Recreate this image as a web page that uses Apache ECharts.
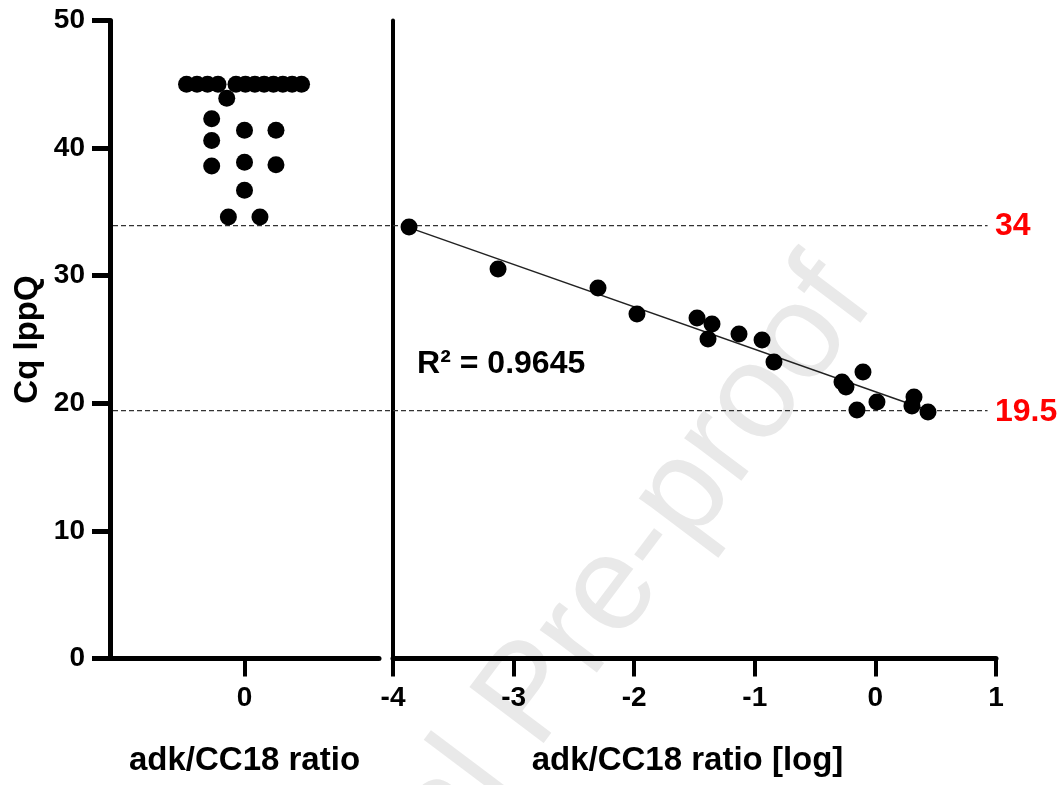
<!DOCTYPE html>
<html>
<head>
<meta charset="utf-8">
<script src="https://cdn.jsdelivr.net/npm/echarts@6/dist/echarts.min.js"></script>
<style>
  html, body { margin: 0; padding: 0; background: #fff; }
  #chart { width: 1058px; height: 785px; }
</style>
</head>
<body>
<div id="chart"></div>
<script>
// ---- data ----
// left panel: non-log ratio group (x = horizontal jitter inside the single category "0")
const leftJitter = [-0.431, -0.353, -0.275, -0.197, -0.063, 0.007, 0.077, 0.146, 0.215, 0.285, 0.354, 0.424,
                    -0.132, -0.244, -0.244, -0.244, 0.0, 0.234, 0.0, 0.234, 0.0, -0.12, 0.115];
const leftCq     = [45, 45, 45, 45, 45, 45, 45, 45, 45, 45, 45, 45,
                    43.9, 42.3, 40.6, 38.6, 41.4, 41.4, 38.9, 38.7, 36.7, 34.6, 34.6];
// right panel: log ratio vs Cq
const logRatio = [-3.867, -3.129, -2.300, -1.977, -1.479, -1.355, -1.388, -1.131, -0.940, -0.841,
                  -0.277, -0.244, -0.103, -0.153, 0.013, 0.320, 0.303, 0.436];
const cqRight  = [33.82, 30.52, 29.04, 27.0, 26.69, 26.22, 25.04, 25.43, 24.96, 23.24,
                  21.67, 21.28, 22.45, 19.47, 20.11, 20.50, 19.79, 19.32];
// regression line
const fitSlope = -3.327;
const fitIntercept = 20.90;
const fitRange = [-3.867, 0.436];
const r2Text = 'R² = 0.9645';
// thresholds
const thresholds = [34, 19.5];
const thresholdLabels = ['34', '19.5'];
// axis ticks
const leftXTicks = [0];
const xTitleLeft = 'adk/CC18 ratio';
const xTitleRight = 'adk/CC18 ratio [log]';
const yTitle = 'Cq lppQ';
const watermark = 'Journal Pre-proof';

const FONT = '"Liberation Sans", Arial, sans-serif';
const chart = echarts.init(document.getElementById('chart'), null, { renderer: 'canvas' });

const leftData = leftJitter.map((x, i) => [x, leftCq[i]]);
const rightData = logRatio.map((x, i) => [x, cqRight[i]]);
const fitData = fitRange.map(x => [x, fitSlope * x + fitIntercept]);

const tickLabel = { fontFamily: FONT, fontWeight: 'bold', fontSize: 28, color: '#000' };
const titleStyle = { fontFamily: FONT, fontWeight: 'bold', fontSize: 33, color: '#000' };

chart.setOption({
  animation: false,
  backgroundColor: '#fff',
  grid: [
    { left: 110, right: 679, top: 20.5, bottom: 126.5 },
    { left: 393, right: 62, top: 20.5, bottom: 126.5 }
  ],
  xAxis: [
    {
      gridIndex: 0, type: 'value', min: -1, max: 1, interval: 1,
      axisLine: { onZero: false, lineStyle: { color: '#000', width: 5 } },
      axisTick: { customValues: leftXTicks, length: 18, lineStyle: { color: '#000', width: 4 } },
      axisLabel: Object.assign({ customValues: leftXTicks, margin: 26 }, tickLabel),
      splitLine: { show: false },
      name: xTitleLeft, nameLocation: 'middle', nameGap: 86, nameTextStyle: titleStyle
    },
    {
      gridIndex: 1, type: 'value', min: -4, max: 1, interval: 1,
      axisLine: { onZero: false, lineStyle: { color: '#000', width: 5 } },
      axisTick: { length: 18, lineStyle: { color: '#000', width: 4 } },
      axisLabel: Object.assign({ margin: 26 }, tickLabel),
      splitLine: { show: false },
      name: xTitleRight, nameLocation: 'middle', nameGap: 86,
      nameTextStyle: Object.assign({ padding: [0, 14, 0, 0] }, titleStyle)
    }
  ],
  yAxis: [
    {
      gridIndex: 0, type: 'value', min: 0, max: 50, interval: 10,
      axisLine: { show: true, onZero: false, lineStyle: { color: '#000', width: 5 } },
      axisTick: { show: true, length: 18, lineStyle: { color: '#000', width: 5 } },
      axisLabel: Object.assign({ margin: 25 }, tickLabel),
      splitLine: { show: false },
      name: yTitle, nameLocation: 'middle', nameGap: 66, nameRotate: 90, nameTextStyle: titleStyle
    },
    {
      gridIndex: 1, type: 'value', min: 0, max: 50, interval: 10,
      axisLine: { show: true, onZero: false, lineStyle: { color: '#000', width: 4 } },
      axisTick: { show: false },
      axisLabel: { show: false },
      splitLine: { show: false }
    }
  ],
  series: [
    {
      type: 'scatter', xAxisIndex: 0, yAxisIndex: 0, data: leftData,
      symbolSize: 17, itemStyle: { color: '#000', opacity: 1 }, z: 5
    },
    {
      type: 'line', xAxisIndex: 1, yAxisIndex: 1, data: fitData,
      symbol: 'none', lineStyle: { color: '#222', width: 1.5 }, z: 4
    },
    {
      type: 'scatter', xAxisIndex: 1, yAxisIndex: 1, data: rightData,
      symbolSize: 17, itemStyle: { color: '#000', opacity: 1 }, z: 5
    }
  ]
});

// reference lines spanning both panels, labels and annotation, placed via the axes' scales
const graphics = [];
thresholds.forEach((t, i) => {
  const a = chart.convertToPixel({ gridIndex: 0 }, [-1, t]);
  const b = chart.convertToPixel({ gridIndex: 1 }, [0.93, t]);
  const c = chart.convertToPixel({ gridIndex: 1 }, [1, t]);
  graphics.push({
    type: 'line', z: 3, silent: true,
    shape: { x1: a[0] + 3, y1: a[1] + 1, x2: b[0], y2: b[1] + 1 },
    style: { stroke: '#333', lineWidth: 1.3, lineDash: [5, 3] }
  });
  graphics.push({
    type: 'text', z: 10, silent: true, x: c[0] - 1, y: c[1] + 2,
    style: { text: thresholdLabels[i], fill: '#ff0000', font: 'bold 32px ' + FONT,
             align: 'left', verticalAlign: 'middle' }
  });
});
const rp = chart.convertToPixel({ gridIndex: 1 }, [-3.8, 23.1]);
graphics.push({
  type: 'text', z: 10, silent: true, x: rp[0], y: rp[1],
  style: { text: r2Text, fill: '#000', font: 'bold 32px ' + FONT, align: 'left', verticalAlign: 'middle' }
});
// watermark
graphics.push({
  type: 'text', z: -10, silent: true, x: 846, y: 280, rotation: 53 * Math.PI / 180,
  style: { text: watermark, fill: '#e9e9e9', font: '135px ' + FONT, align: 'right', verticalAlign: 'middle' }
});
chart.setOption({ graphic: graphics });
</script>
</body>
</html>
